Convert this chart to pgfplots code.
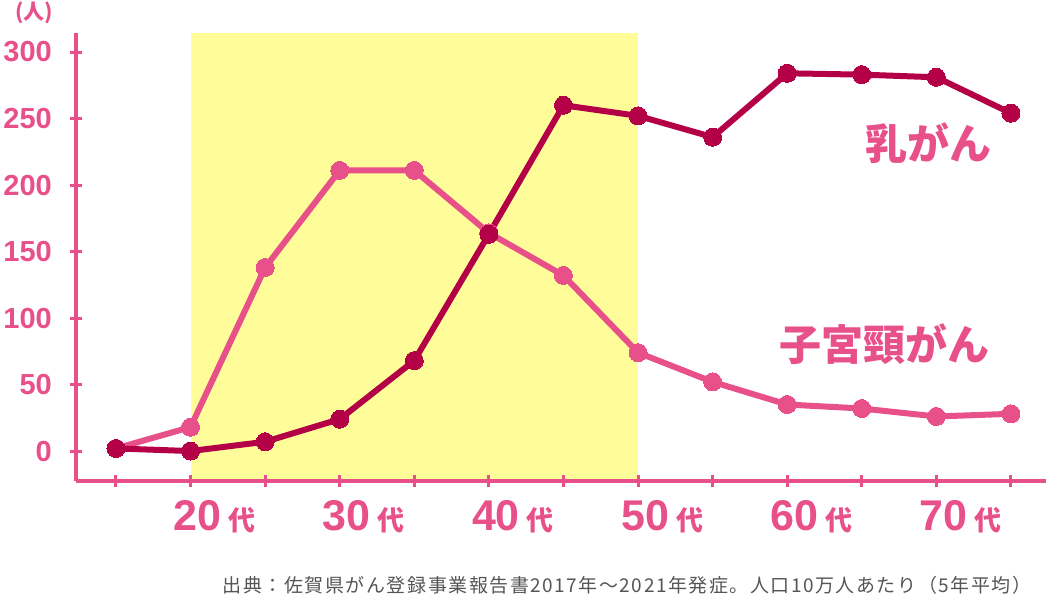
\documentclass[border=0pt]{standalone}
\usepackage{pgfplots}
\pgfplotsset{compat=1.18}
\usepackage{fontspec}
\setmainfont{Liberation Sans}
\newfontfamily\jp{Noto Sans CJK JP}
\newfontfamily\jpfoot{Noto Sans CJK JP}[LetterSpace=8]
\definecolor{pk}{HTML}{E8508A}
\definecolor{dk}{HTML}{B30046}
\definecolor{hl}{HTML}{FFFD99}
\definecolor{ft}{HTML}{555555}
\newcommand\xl[1]{{\fontsize{43}{43}\selectfont\bfseries #1}\hspace{7pt}{\jp\fontsize{27}{27}\selectfont\bfseries 代}}
\begin{document}
\begin{tikzpicture}[x=1pt,y=1pt]
\begin{axis}[
  at={(76pt,116pt)}, anchor=south west,
  scale only axis, width=970pt, height=448pt,
  xmin=12.32, xmax=77.35, ymin=-22.5, ymax=314.3,
  axis x line=bottom, axis y line=left,
  axis line style={pk, line width=3.5pt, -},
  axis on top,
  xtick={15,20,...,75},
  xticklabels={,\xl{20},,\xl{30},,\xl{40},,\xl{50},,\xl{60},,\xl{70},},
  ytick={0,50,...,300},
  yticklabels={0,50,100,150,200,250,300},
  tick align=center, major tick length=12pt,
  tick style={pk, line width=3pt},
  yticklabel style={font=\fontsize{29}{29}\selectfont\bfseries, text=pk, anchor=east, inner sep=0pt, xshift=-18pt},
  xticklabel style={text=pk, anchor=base west, inner sep=0pt, xshift=-17pt, yshift=-43pt},
  clip=false,
]
\fill[hl] (axis cs:20,-22.5) rectangle (axis cs:50,314.3);
\addplot[pk, line width=6pt, line join=round, mark=*, mark size=9pt, mark options={fill=pk, draw=pk, line width=0pt}]
  coordinates {(15,2) (20,18) (25,138) (30,211) (35,211) (40,164) (45,132) (50,74) (55,52) (60,35) (65,32) (70,26) (75,28)};
\addplot[dk, line width=6pt, line join=round, mark=*, mark size=9pt, mark options={fill=dk, draw=dk, line width=0pt}]
  coordinates {(15,2) (20,0) (25,7) (30,24) (35,68) (40,163) (45,260) (50,252) (55,236) (60,284) (65,283) (70,281) (75,254)};
\end{axis}
\node[text=pk, font=\jp\fontsize{21}{21}\selectfont\bfseries] at (34pt,584pt) {(人)};
\node[text=pk, font=\jp\fontsize{42}{42}\selectfont\bfseries] at (928pt,454pt) {乳がん};
\node[text=pk, font=\jp\fontsize{42}{42}\selectfont\bfseries] at (884pt,253pt) {子宮頸がん};
\node[text=ft, font=\jpfoot\fontsize{19}{19}\selectfont] at (627pt,12pt) {出典：佐賀県がん登録事業報告書2017年～2021年発症。人口10万人あたり（5年平均）};
\pgfresetboundingbox
\useasboundingbox (0,0) rectangle (1047pt,597pt);
\end{tikzpicture}
\end{document}
